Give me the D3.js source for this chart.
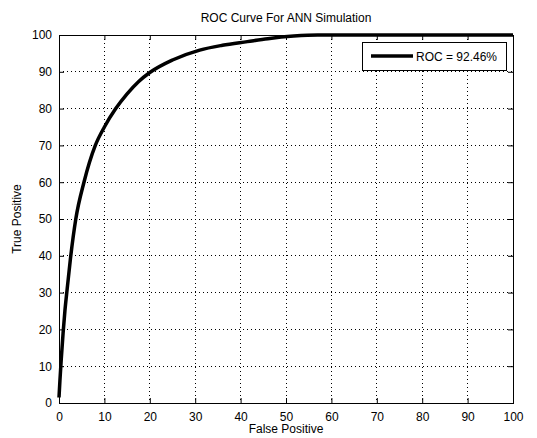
<!DOCTYPE html>
<html>
<head>
<meta charset="utf-8">
<script src="https://cdn.jsdelivr.net/npm/d3@7"></script>
<style>
  body { margin: 0; background: #fff; }
  text { font-family: "Liberation Sans", Arial, sans-serif; fill: #000; }
</style>
</head>
<body>
<div id="chart"></div>
<script>
// ROC curve
const fpr = [0, 0.2, 0.5, 0.9, 1.3, 1.8, 2.5, 3.7, 5.5, 8, 10, 12.5, 15, 17.5, 20, 25, 31, 36, 41.5, 46, 51.7, 57, 60, 100];
const tpr = [1.5, 6, 12, 19, 25, 31, 39, 50, 60, 70, 75, 80, 84, 87.3, 89.8, 93.2, 95.9, 97.2, 98.2, 99, 99.7, 100, 100, 100];
const xTicks = [0, 10, 20, 30, 40, 50, 60, 70, 80, 90, 100];
const yTicks = [0, 10, 20, 30, 40, 50, 60, 70, 80, 90, 100];
const legendLabel = 'ROC = 92.46%';

const width = 537, height = 438;
const margin = { top: 35, right: 24, bottom: 35, left: 59 };
const w = width - margin.left - margin.right;
const h = height - margin.top - margin.bottom;

const svg = d3.select('#chart').append('svg')
  .attr('width', width)
  .attr('height', height);

const x = d3.scaleLinear().domain([0, 100]).range([0, w]);
const y = d3.scaleLinear().domain([0, 100]).range([h, 0]);

const g = svg.append('g')
  .attr('transform', 'translate(' + margin.left + ',' + margin.top + ')');

g.append('rect')
  .attr('width', w).attr('height', h)
  .attr('fill', '#fff');

// grid
g.selectAll('.gx')
  .data(xTicks.slice(1, -1))
  .enter().append('line')
  .attr('x1', d => x(d)).attr('x2', d => x(d))
  .attr('y1', 0).attr('y2', h)
  .attr('stroke', '#000').attr('stroke-width', 1)
  .attr('stroke-dasharray', '1,3')
  .attr('shape-rendering', 'crispEdges');

g.selectAll('.gy')
  .data(yTicks.slice(1, -1))
  .enter().append('line')
  .attr('x1', 0).attr('x2', w)
  .attr('y1', d => y(d)).attr('y2', d => y(d))
  .attr('stroke', '#000').attr('stroke-width', 1)
  .attr('stroke-dasharray', '1,3')
  .attr('shape-rendering', 'crispEdges');

// axes
g.append('g')
  .attr('transform', 'translate(0,' + h + ')')
  .call(d3.axisBottom(x).tickValues(xTicks).tickSize(-5).tickPadding(9).tickSizeOuter(0));
g.append('g')
  .call(d3.axisLeft(y).tickValues(yTicks).tickSize(-5).tickPadding(7).tickSizeOuter(0));
g.append('g')
  .call(d3.axisTop(x).tickValues(xTicks).tickSize(-5).tickFormat('').tickSizeOuter(0));
g.append('g')
  .attr('transform', 'translate(' + w + ',0)')
  .call(d3.axisRight(y).tickValues(yTicks).tickSize(-5).tickFormat('').tickSizeOuter(0));

g.selectAll('.domain').attr('stroke', '#000');
g.selectAll('.tick line').attr('stroke', '#000');
g.selectAll('.tick text').attr('font-size', 12)
  .style('font-family', '"Liberation Sans", Arial, sans-serif');

g.append('rect')
  .attr('width', w).attr('height', h)
  .attr('fill', 'none').attr('stroke', '#000').attr('stroke-width', 1)
  .attr('shape-rendering', 'crispEdges');

// curve
const pts = fpr.map((d, i) => [d, tpr[i]]);
g.append('path')
  .datum(pts)
  .attr('fill', 'none')
  .attr('stroke', '#000')
  .attr('stroke-width', 3.5)
  .attr('stroke-linejoin', 'round')
  .attr('d', d3.line().x(d => x(d[0])).y(d => y(d[1])).curve(d3.curveMonotoneX));

// legend
const lg = svg.append('g').attr('transform', 'translate(362,42)');
lg.append('rect')
  .attr('width', 144).attr('height', 28)
  .attr('fill', '#fff').attr('stroke', '#000')
  .attr('shape-rendering', 'crispEdges');
lg.append('line')
  .attr('x1', 9).attr('x2', 51).attr('y1', 14).attr('y2', 14)
  .attr('stroke', '#000').attr('stroke-width', 3.5);
lg.append('text')
  .attr('x', 54).attr('y', 18.5)
  .attr('font-size', 12)
  .text(legendLabel);

// titles
svg.append('text')
  .attr('x', margin.left + w / 2).attr('y', 22)
  .attr('text-anchor', 'middle').attr('font-size', 12)
  .text('ROC Curve For ANN Simulation');
svg.append('text')
  .attr('x', margin.left + w / 2).attr('y', 433)
  .attr('text-anchor', 'middle').attr('font-size', 12)
  .text('False Positive');
svg.append('text')
  .attr('transform', 'translate(21,' + (margin.top + h / 2) + ') rotate(-90)')
  .attr('text-anchor', 'middle').attr('font-size', 12)
  .text('True Positive');
</script>
</body>
</html>
